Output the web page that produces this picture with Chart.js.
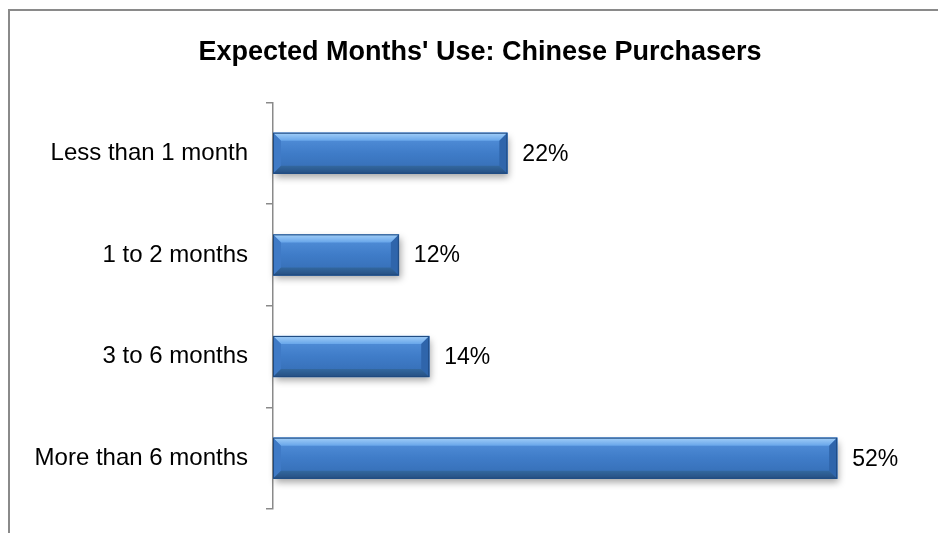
<!DOCTYPE html>
<html lang="en">
<head>
    <meta charset="UTF-8">
    <title>Expected Months' Use: Chinese Purchasers</title>
    <script src="https://cdn.jsdelivr.net/npm/chart.js"></script>
    <style>
        html, body {
            margin: 0;
            padding: 0;
            background: #fff;
            overflow: hidden;
            width: 938px;
            height: 533px;
        }
        .frame {
            position: absolute;
            left: 8px;
            top: 9px;
            border-left: 2px solid #8a8a8a;
            border-top: 2px solid #8a8a8a;
            width: 940px;
            height: 522px;
        }
    </style>
</head>
<body>
    <div class="frame">
        <canvas id="monthsChart" width="940" height="522"></canvas>
    </div>

    <script>
        // values (bar lengths), labels shown rounded
        const categories = ['Less than 1 month', '1 to 2 months', '3 to 6 months', 'More than 6 months'];
        const shares = [21.6, 11.6, 14.4, 52.0];
        const axisMax = 62.4;
        const titleText = "Expected Months' Use: Chinese Purchasers";

        const fontFamily = "'Liberation Sans', Arial, sans-serif";

        function barBox(bar) {
            const h = bar.height;
            return { left: Math.min(bar.base, bar.x), right: Math.max(bar.base, bar.x), top: bar.y - h / 2, bottom: bar.y + h / 2 };
        }

        // soft shadow under each bar + bevel faces on top of it
        const bevelBars = {
            id: 'bevelBars',
            beforeDatasetsDraw(chart) {
                const c = chart.ctx;
                chart.getDatasetMeta(0).data.forEach(bar => {
                    const b = barBox(bar);
                    c.save();
                    c.shadowColor = 'rgba(0,0,0,0.35)';
                    c.shadowBlur = 7;
                    c.shadowOffsetX = 2;
                    c.shadowOffsetY = 4;
                    c.fillStyle = '#3a76c2';
                    c.fillRect(b.left, b.top, b.right - b.left, b.bottom - b.top);
                    c.restore();
                });
            },
            afterDatasetsDraw(chart) {
                const c = chart.ctx;
                const s = 8;
                chart.getDatasetMeta(0).data.forEach(bar => {
                    const b = barBox(bar);
                    const face = (pts, fill) => {
                        c.beginPath();
                        c.moveTo(pts[0][0], pts[0][1]);
                        for (let i = 1; i < pts.length; i++) c.lineTo(pts[i][0], pts[i][1]);
                        c.closePath();
                        c.fillStyle = fill;
                        c.fill();
                    };
                    c.save();
                    const topGrad = c.createLinearGradient(0, b.top, 0, b.top + s);
                    topGrad.addColorStop(0, '#a3cff8');
                    topGrad.addColorStop(1, '#68a6ea');
                    face([[b.left, b.top], [b.right, b.top], [b.right - s, b.top + s], [b.left + s, b.top + s]], topGrad);
                    face([[b.left, b.top], [b.left + s, b.top + s], [b.left + s, b.bottom - s], [b.left, b.bottom]], '#3f7ac6');
                    face([[b.right, b.top], [b.right, b.bottom], [b.right - s, b.bottom - s], [b.right - s, b.top + s]], '#2f65ab');
                    const botGrad = c.createLinearGradient(0, b.bottom - s, 0, b.bottom);
                    botGrad.addColorStop(0, '#33689f');
                    botGrad.addColorStop(1, '#264f82');
                    face([[b.left, b.bottom], [b.right, b.bottom], [b.right - s, b.bottom - s], [b.left + s, b.bottom - s]], botGrad);
                    c.strokeStyle = '#1f4a80';
                    c.lineWidth = 1;
                    c.strokeRect(b.left + 0.5, b.top + 0.5, b.right - b.left - 1, b.bottom - b.top - 1);
                    c.restore();
                });
            }
        };

        // percentage labels to the right of the bars
        const valueLabels = {
            id: 'valueLabels',
            afterDatasetsDraw(chart) {
                const c = chart.ctx;
                const data = chart.data.datasets[0].data;
                c.save();
                c.font = '23px ' + fontFamily;
                c.fillStyle = '#000';
                c.textAlign = 'left';
                c.textBaseline = 'middle';
                chart.getDatasetMeta(0).data.forEach((bar, i) => {
                    c.fillText(Math.round(data[i]) + '%', bar.x + 15, bar.y + 1);
                });
                c.restore();
            }
        };

        document.addEventListener('DOMContentLoaded', function () {
            const ctx = document.getElementById('monthsChart').getContext('2d');
            new Chart(ctx, {
                type: 'bar',
                data: {
                    labels: categories,
                    datasets: [{
                        data: shares,
                        backgroundColor: (context) => {
                            const chart = context.chart;
                            if (!chart.chartArea) return '#3d7cc9';
                            const y = chart.scales.y.getPixelForValue(context.dataIndex);
                            const g = chart.ctx.createLinearGradient(0, y - 20, 0, y + 20);
                            g.addColorStop(0, '#5592dc');
                            g.addColorStop(0.5, '#3f7cc8');
                            g.addColorStop(1, '#346cb3');
                            return g;
                        },
                        borderWidth: 0,
                        barThickness: 41
                    }]
                },
                options: {
                    indexAxis: 'y',
                    responsive: false,
                    animation: false,
                    layout: { autoPadding: false, padding: { top: 0, right: 0, bottom: 24, left: 0 } },
                    plugins: {
                        legend: { display: false },
                        tooltip: { enabled: false },
                        title: {
                            display: true,
                            text: titleText,
                            color: '#000',
                            font: { family: fontFamily, size: 27, weight: 'bold', lineHeight: 1.2 },
                            padding: { top: 25, bottom: 34 }
                        }
                    },
                    scales: {
                        x: {
                            display: false,
                            min: 0,
                            max: axisMax
                        },
                        y: {
                            afterFit: (scale) => {
                                scale.width = 263;
                                scale.paddingTop = 0;
                                scale.paddingBottom = 0;
                            },
                            grid: {
                                offset: true,
                                drawOnChartArea: false,
                                drawTicks: true,
                                tickLength: 7,
                                color: '#8a8a8a',
                                lineWidth: 1.5
                            },
                            border: { display: true, color: '#8a8a8a', width: 1.5 },
                            ticks: {
                                color: '#000',
                                padding: 18,
                                font: { family: fontFamily, size: 24 }
                            }
                        }
                    }
                },
                plugins: [bevelBars, valueLabels]
            });
        });
    </script>
</body>
</html>
